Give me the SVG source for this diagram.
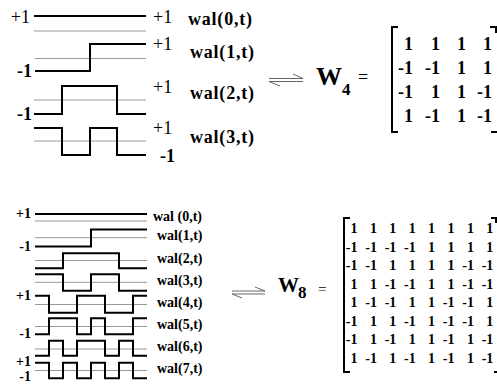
<svg xmlns="http://www.w3.org/2000/svg" width="497" height="385" viewBox="0 0 497 385">
<style>
.w{fill:none;stroke:#000;stroke-width:2}
.g{fill:none;stroke:#999;stroke-width:1}
.g0{fill:none;stroke:#ccc;stroke-width:2}
.ar{fill:none;stroke:#666;stroke-width:1}
.br{fill:none;stroke:#000;stroke-width:2}
text{font-family:"Liberation Serif","Times New Roman",serif;fill:#000}
.r{font-size:18px}
.b{font-size:18px;font-weight:bold}
.s{font-size:14px;font-weight:bold}
.m4{font-size:18px;font-weight:bold;text-anchor:end}
.m8{font-size:14px;font-weight:bold;text-anchor:end}
.e{text-anchor:end}
</style>
<rect width="497" height="385" fill="#fff"/>
<g id="walsh4-waveforms">
<path class="g0" d="M34 31H146"/>
<path class="w" d="M34 16H146"/>
<path class="g" d="M35 58.5H146"/>
<path class="w" d="M35 71H90V44H146"/>
<path class="g" d="M34 100H146"/>
<path class="w" d="M34 114H62V86H117V114H146"/>
<path class="g" d="M34 141H146"/>
<path class="w" d="M34 128H62V155H90V128H117V155H146"/>
</g>
<g id="walsh4-labels">
<text class="r e" x="30" y="23">+1</text>
<text class="b e" x="32" y="77">-1</text>
<text class="b e" x="32" y="120">-1</text>
<text class="r" x="153" y="23">+1</text>
<text class="r" x="153" y="50">+1</text>
<text class="r" x="153" y="93">+1</text>
<text class="r" x="153" y="134">+1</text>
<text class="b" x="160" y="162">-1</text>
<text class="b" x="188" y="25" textLength="64">wal(0,t)</text>
<text class="b" x="190" y="58" textLength="64">wal(1,t)</text>
<text class="b" x="190" y="99" textLength="64">wal(2,t)</text>
<text class="b" x="190" y="143" textLength="64">wal(3,t)</text>
</g>
<g id="connectors">
<path class="ar" d="M269 78.5H303L293 74"/>
<path class="ar" d="M303 81.5H269L280 86"/>
<path class="ar" d="M232 291H265L255 287"/>
<path class="ar" d="M265 294H232L242 298"/>
</g>
<g id="W4">
<text x="316" y="85" style="font-size:26px;font-weight:bold">W</text>
<text x="342" y="95" style="font-size:17px;font-weight:bold">4</text>
<text x="358" y="83" class="r">=</text>
<path class="br" d="M398 27H392V132H398"/>
<path class="br" d="M490 27H496V33"/>
<path class="br" d="M491 132H497"/>
<g class="m4">
<text x="413" y="50">1</text><text x="440" y="50">1</text><text x="466" y="50">1</text><text x="492" y="50">1</text>
<text x="413" y="74">-1</text><text x="440" y="74">-1</text><text x="466" y="74">1</text><text x="492" y="74">1</text>
<text x="413" y="98">-1</text><text x="440" y="98">1</text><text x="466" y="98">1</text><text x="492" y="98">-1</text>
<text x="413" y="122">1</text><text x="440" y="122">-1</text><text x="466" y="122">1</text><text x="492" y="122">-1</text>
</g>
</g>
<g id="walsh8-waveforms">
<path class="g" d="M35 221H147"/>
<path class="w" d="M35 214H147"/>
<path class="g" d="M35 237.7H147"/>
<path class="w" d="M35 246.5H91V229.5H147"/>
<path class="g" d="M35 260.5H147"/>
<path class="w" d="M35 268.3H63V253.3H119V268.3H147"/>
<path class="g" d="M35 282.3H147"/>
<path class="w" d="M35 274.3H63V290.7H91V274.3H119V290.7H147"/>
<path class="g" d="M35 304.5H147"/>
<path class="w" d="M35 295.7H49V312.7H77V295.7H105V312.7H133V295.7H147"/>
<path class="g" d="M35 326.5H147"/>
<path class="w" d="M35 334.3H49V318.3H77V334.3H91V318.3H105V334.3H133V318.3H147"/>
<path class="g" d="M35 349H147"/>
<path class="w" d="M35 355.7H49V340.7H63V355.7H77V340.7H105V355.7H119V340.7H133V355.7H147"/>
<path class="g" d="M35 370.5H147"/>
<path class="w" d="M35 362.7H49V378.3H63V362.7H77V378.3H91V362.7H105V378.3H119V362.7H133V378.3H147"/>
</g>
<g id="walsh8-labels" class="s">
<text class="e" x="31" y="218">+1</text>
<text class="e" x="31" y="251">-1</text>
<text class="e" x="31" y="300">+1</text>
<text class="e" x="31" y="338">-1</text>
<text class="e" x="31" y="366">+1</text>
<text class="e" x="31" y="381">-1</text>
<text x="153" y="221">wal (0,t)</text>
<text x="157" y="240">wal(1,t)</text>
<text x="157" y="263">wal(2,t)</text>
<text x="157" y="285">wal(3,t)</text>
<text x="157" y="307">wal(4,t)</text>
<text x="157" y="329">wal(5,t)</text>
<text x="157" y="351">wal(6,t)</text>
<text x="157" y="373">wal(7,t)</text>
</g>
<g id="W8">
<text x="278" y="292" style="font-size:21px;font-weight:bold">W</text>
<text x="298" y="298" style="font-size:17px;font-weight:bold">8</text>
<text x="318" y="294" style="font-size:15px">=</text>
<path class="br" d="M350 218H344V372H350"/>
<path class="br" d="M491 218H496V223"/>
<path class="br" d="M494 372H497"/>
<g class="m8">
<text y="233"><tspan x="357.5">1</tspan><tspan x="376.9">1</tspan><tspan x="396.3">1</tspan><tspan x="415.7">1</tspan><tspan x="435.1">1</tspan><tspan x="454.5">1</tspan><tspan x="473.9">1</tspan><tspan x="493.3">1</tspan></text>
<text y="251.5"><tspan x="357.5">-1</tspan><tspan x="376.9">-1</tspan><tspan x="396.3">-1</tspan><tspan x="415.7">-1</tspan><tspan x="435.1">1</tspan><tspan x="454.5">1</tspan><tspan x="473.9">1</tspan><tspan x="493.3">1</tspan></text>
<text y="270"><tspan x="357.5">-1</tspan><tspan x="376.9">-1</tspan><tspan x="396.3">1</tspan><tspan x="415.7">1</tspan><tspan x="435.1">1</tspan><tspan x="454.5">1</tspan><tspan x="473.9">-1</tspan><tspan x="493.3">-1</tspan></text>
<text y="288.5"><tspan x="357.5">1</tspan><tspan x="376.9">1</tspan><tspan x="396.3">-1</tspan><tspan x="415.7">-1</tspan><tspan x="435.1">1</tspan><tspan x="454.5">1</tspan><tspan x="473.9">-1</tspan><tspan x="493.3">-1</tspan></text>
<text y="307"><tspan x="357.5">1</tspan><tspan x="376.9">-1</tspan><tspan x="396.3">-1</tspan><tspan x="415.7">1</tspan><tspan x="435.1">1</tspan><tspan x="454.5">-1</tspan><tspan x="473.9">-1</tspan><tspan x="493.3">1</tspan></text>
<text y="325.5"><tspan x="357.5">-1</tspan><tspan x="376.9">1</tspan><tspan x="396.3">1</tspan><tspan x="415.7">-1</tspan><tspan x="435.1">1</tspan><tspan x="454.5">-1</tspan><tspan x="473.9">-1</tspan><tspan x="493.3">1</tspan></text>
<text y="344"><tspan x="357.5">-1</tspan><tspan x="376.9">1</tspan><tspan x="396.3">-1</tspan><tspan x="415.7">1</tspan><tspan x="435.1">1</tspan><tspan x="454.5">-1</tspan><tspan x="473.9">1</tspan><tspan x="493.3">-1</tspan></text>
<text y="362.5"><tspan x="357.5">1</tspan><tspan x="376.9">-1</tspan><tspan x="396.3">1</tspan><tspan x="415.7">-1</tspan><tspan x="435.1">1</tspan><tspan x="454.5">-1</tspan><tspan x="473.9">1</tspan><tspan x="493.3">-1</tspan></text>
</g>
</g>
</svg>
